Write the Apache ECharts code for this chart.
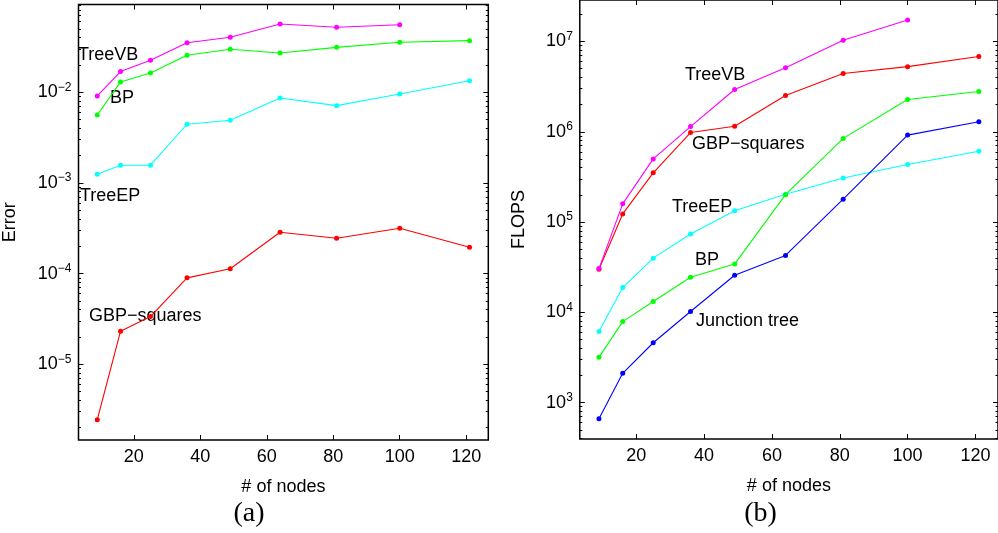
<!DOCTYPE html>
<html><head><meta charset="utf-8">
<script src="https://cdn.jsdelivr.net/npm/echarts@6/dist/echarts.min.js"></script>
<style>html,body{margin:0;padding:0;background:#fff}#c{width:998px;height:533px}</style>
</head><body><div id="c"></div>
<script>
// ---- data ----
const nodes = [9, 16, 25, 36, 49, 64, 81, 100, 121];
const xTicks = [20, 40, 60, 80, 100, 120];

// (a) Error
const errTreeVB = [0.0091, 0.0169, 0.0225, 0.0352, 0.0404, 0.0566, 0.0521, 0.0556, null];
const errBP     = [0.00562, 0.0130, 0.0163, 0.0256, 0.0298, 0.0271, 0.0313, 0.0356, 0.0371];
const errTreeEP = [0.00125, 0.00157, 0.00157, 0.00444, 0.00491, 0.00865, 0.00712, 0.00958, 0.0134];
const errGBP    = [2.45e-6, 2.32e-5, 3.36e-5, 8.98e-5, 1.13e-4, 2.86e-4, 2.45e-4, 3.17e-4, 1.95e-4];
const errTicks  = [1e-5, 1e-4, 1e-3, 1e-2];

// (b) FLOPS
const flTreeVB   = [30500, 159000, 500000, 1140000, 2940000, 5130000, 10300000, 17300000, null];
const flGBP      = [30000, 123000, 351000, 980000, 1150000, 2520000, 4410000, 5260000, 6830000];
const flBP       = [3170, 7890, 13200, 24400, 34200, 201000, 844000, 2280000, 2790000];
const flJunction = [661, 2110, 4600, 10200, 25700, 42700, 179000, 918000, 1290000];
const flTreeEP   = [6120, 18800, 39800, 73800, 133000, 203000, 307000, 434000, 608000];
const flTicks    = [1e3, 1e4, 1e5, 1e6, 1e7];

// ---- helpers ----
const FONT = 'Liberation Sans, Arial, Helvetica, sans-serif';
const FS = 18;
const X_MIN = 3.35, X_MAX = 126.65;
const A = {ymin: 1.462e-6, ymax: 0.0929};
const B = {ymin: 395, ymax: 2.88e7};

function pairs(vals) {
  return nodes.map((x, i) => [x, vals[i]]).filter(d => d[1] != null);
}
function minorVals(lo, hi) {
  const out = [];
  for (let e = Math.floor(Math.log10(lo)); e <= Math.ceil(Math.log10(hi)); e++) {
    for (let m = 2; m <= 9; m++) {
      const v = parseFloat((m * Math.pow(10, e)).toPrecision(6));
      if (v >= lo && v <= hi) out.push(v);
    }
  }
  return out;
}
function supLabel(v) {
  const e = Math.round(Math.log10(v));
  return '{b|10}{s|' + (e < 0 ? '\u2212' + (-e) : e) + '}';
}
const richSup = {
  b: {fontSize: FS, fontFamily: FONT, color: '#000'},
  s: {fontSize: 12, fontFamily: FONT, color: '#000', padding: [0, 0, 10, 0]}
};

function xAxes(grid) {
  return [
    {type: 'value', gridIndex: grid, min: X_MIN, max: X_MAX, position: 'bottom',
     axisLine: {show: false}, splitLine: {show: false},
     axisTick: {inside: true, length: 5, customValues: xTicks, lineStyle: {color: '#000', width: 1}},
     axisLabel: {customValues: xTicks, color: '#000', fontSize: FS, fontFamily: FONT, margin: 8},
     name: '# of nodes', nameLocation: 'middle', nameGap: 38,
     nameTextStyle: {color: '#000', fontSize: FS, fontFamily: FONT}},
    {type: 'value', gridIndex: grid, min: X_MIN, max: X_MAX, position: 'top',
     axisLine: {show: false}, splitLine: {show: false},
     axisTick: {inside: true, length: 5, customValues: xTicks, lineStyle: {color: '#000', width: 1}},
     axisLabel: {show: false}}
  ];
}
function yAxes(grid, lo, hi, major, name, nameGap) {
  const minor = minorVals(lo, hi);
  const base = {type: 'log', gridIndex: grid, min: lo, max: hi, logBase: 10,
    axisLine: {show: false}, splitLine: {show: false}};
  return [
    Object.assign({}, base, {position: 'left',
      axisTick: {inside: true, length: 5, customValues: major, lineStyle: {color: '#000', width: 1}},
      axisLabel: {customValues: major, formatter: supLabel, rich: richSup, margin: 7},
      name: name, nameLocation: 'middle', nameGap: nameGap, nameRotate: 90,
      nameTextStyle: {color: '#000', fontSize: FS, fontFamily: FONT}}),
    Object.assign({}, base, {position: 'left',
      axisTick: {inside: true, length: 2.5, customValues: minor, lineStyle: {color: '#000', width: 1}},
      axisLabel: {show: false}}),
    Object.assign({}, base, {position: 'right',
      axisTick: {inside: true, length: 5, customValues: major, lineStyle: {color: '#000', width: 1}},
      axisLabel: {show: false}}),
    Object.assign({}, base, {position: 'right',
      axisTick: {inside: true, length: 2.5, customValues: minor, lineStyle: {color: '#000', width: 1}},
      axisLabel: {show: false}})
  ];
}
function line(name, vals, color, xi, yi) {
  return {type: 'line', name: name, data: pairs(vals), xAxisIndex: xi, yAxisIndex: yi,
    symbol: 'circle', symbolSize: 5, showSymbol: true,
    lineStyle: {color: color, width: 1.1}, itemStyle: {color: color, borderWidth: 0},
    emphasis: {disabled: true}};
}
function txt(s, x, y, size, family, align) {
  return {type: 'text', x: x, y: y, silent: true,
    style: {text: s, fill: '#000', font: size + 'px ' + family,
      textAlign: align || 'left', textVerticalAlign: 'middle'}};
}

const chart = echarts.init(document.getElementById('c'), null, {renderer: 'canvas'});
chart.setOption({
  animation: false,
  backgroundColor: '#fff',
  grid: [
    {left: 74.6, top: 4.5, width: 413.7, height: 435.5, show: true, borderColor: '#000', borderWidth: 1.5, backgroundColor: 'transparent'},
    {left: 579.8, top: -3.5, width: 421, height: 442.5, show: true, borderColor: '#000', borderWidth: 1.5, backgroundColor: 'transparent'}
  ],
  xAxis: [].concat(xAxes(0), xAxes(1)),
  yAxis: [].concat(yAxes(0, A.ymin, A.ymax, errTicks, 'Error', 59.5),
                   yAxes(1, B.ymin, B.ymax, flTicks, 'FLOPS', 52)),
  series: [
    line('GBP-squares', errGBP, '#ff0000', 0, 0),
    line('TreeEP', errTreeEP, '#00ffff', 0, 0),
    line('BP', errBP, '#00ff00', 0, 0),
    line('TreeVB', errTreeVB, '#ff00ff', 0, 0),
    line('TreeEP', flTreeEP, '#00ffff', 2, 4),
    line('Junction tree', flJunction, '#0000ff', 2, 4),
    line('BP', flBP, '#00ff00', 2, 4),
    line('GBP-squares', flGBP, '#ff0000', 2, 4),
    line('TreeVB', flTreeVB, '#ff00ff', 2, 4)
  ],
  graphic: [
    txt('TreeVB', 78, 55, 18, FONT),
    txt('BP', 110, 98, 18, FONT),
    txt('TreeEP', 80, 196, 18, FONT),
    txt('GBP\u2212squares', 89, 316, 18, FONT),
    txt('TreeVB', 685, 75, 18, FONT),
    txt('GBP\u2212squares', 692, 144, 18, FONT),
    txt('TreeEP', 672, 207, 18, FONT),
    txt('BP', 695, 260, 18, FONT),
    txt('Junction tree', 696, 321, 18, FONT),
    txt('(a)', 249, 514, 28, 'Liberation Serif, serif', 'center'),
    txt('(b)', 760.5, 514, 28, 'Liberation Serif, serif', 'center')
  ]
});
</script></body></html>
